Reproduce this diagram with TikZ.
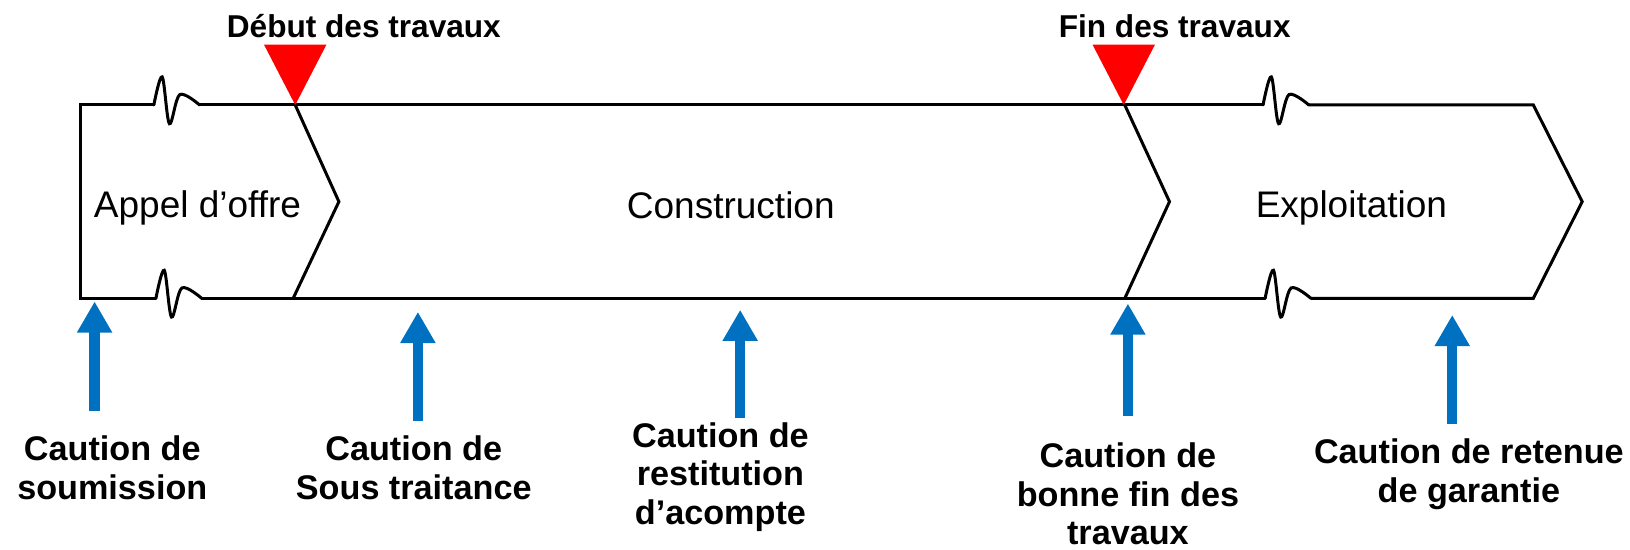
\documentclass[tikz,border=0pt]{standalone}
\usepackage{fontspec}
\setmainfont{Liberation Sans}
\usetikzlibrary{arrows.meta}
\definecolor{cautionblue}{RGB}{0,112,192}
\definecolor{jalonred}{RGB}{255,0,0}

\tikzset{
	phase/.style={font=\fontsize{18.5}{21}\selectfont, inner sep=0pt},
	jalon/.style={font=\fontsize{15.8}{18}\selectfont\bfseries, inner sep=0pt},
	caution/.style={font=\fontsize{17.1}{19.3}\selectfont\bfseries, align=center, inner sep=0pt},
	contour/.style={line width=1.5pt, line cap=round, line join=miter},
	fleche/.style={draw=cautionblue, line width=5.2pt, -{Triangle[width=16.6pt, length=15.6pt]}},
}

% coupure de l'axe du temps
\newcommand{\cassure}[2]{
	\draw[contour] plot[smooth, tension=0.55] coordinates {(#1,#2) (#1+8,#2-27) (#1+15,#2+18) (#1+25,#2-10) (#1+44,#2)};
}

\begin{document}
\begin{tikzpicture}[x=0.51977pt, y=-0.51977pt]
	\useasboundingbox (0,0) rectangle (1568,529);
	% Contour des phases:
	\draw[contour] (148,101) -- (77,101) -- (77,287) -- (150,287);
	\cassure{148}{101}
	\cassure{150}{287}
	\draw[contour] (192,101) -- (1215,101);
	\draw[contour] (194,287) -- (1217,287);
	\cassure{1215}{101}
	\cassure{1217}{287}
	\draw[contour] (1259,101) -- (1475,101) -- (1522,194) -- (1475,287) -- (1261,287);
	\draw[contour] (284,101) -- (326,194) -- (282,287);
	\draw[contour] (1082,101) -- (1125,194) -- (1082,287);
	\node[phase] (appel) at (190,200) {Appel d’offre};
	\node[phase] (constr) at (703,197) {Construction};
	\node[phase] (exploit) at (1300,200) {Exploitation};
	% Jalons:
	\coordinate (debutT) at (284,101);
	\coordinate (finT) at (1081,101);
	\fill[jalonred] (debutT) -- ++(-30,-58) -- ++(60,0) -- cycle;
	\fill[jalonred] (finT) -- ++(-30,-58) -- ++(60,0) -- cycle;
	\node[jalon] (debut) at (350,25) {Début des travaux};
	\node[jalon] (fin) at (1130,25) {Fin des travaux};
	% Cautions:
	\node[caution] (soumission) at (108,450) {Caution de\\soumission};
	\node[caution] (soustrait) at (398,450) {Caution de\\Sous traitance};
	\node[caution] (restit) at (693,459) {Caution de\\restitution\\d’acompte};
	\node[caution] (bonnefin) at (1085,475) {Caution de\\bonne fin des\\travaux};
	\node[caution] (retenue) at (1413,456) {Caution de retenue\\de garantie};
	\coordinate (b1) at (91,395);   \coordinate (t1) at (91,290);
	\coordinate (b2) at (402,405);  \coordinate (t2) at (402,300);
	\coordinate (b3) at (712,402);  \coordinate (t3) at (712,298);
	\coordinate (b4) at (1085,400); \coordinate (t4) at (1085,292);
	\coordinate (b5) at (1397,408); \coordinate (t5) at (1397,303);
	\draw[fleche] (b1) -- (t1);
	\draw[fleche] (b2) -- (t2);
	\draw[fleche] (b3) -- (t3);
	\draw[fleche] (b4) -- (t4);
	\draw[fleche] (b5) -- (t5);
\end{tikzpicture}
\end{document}
